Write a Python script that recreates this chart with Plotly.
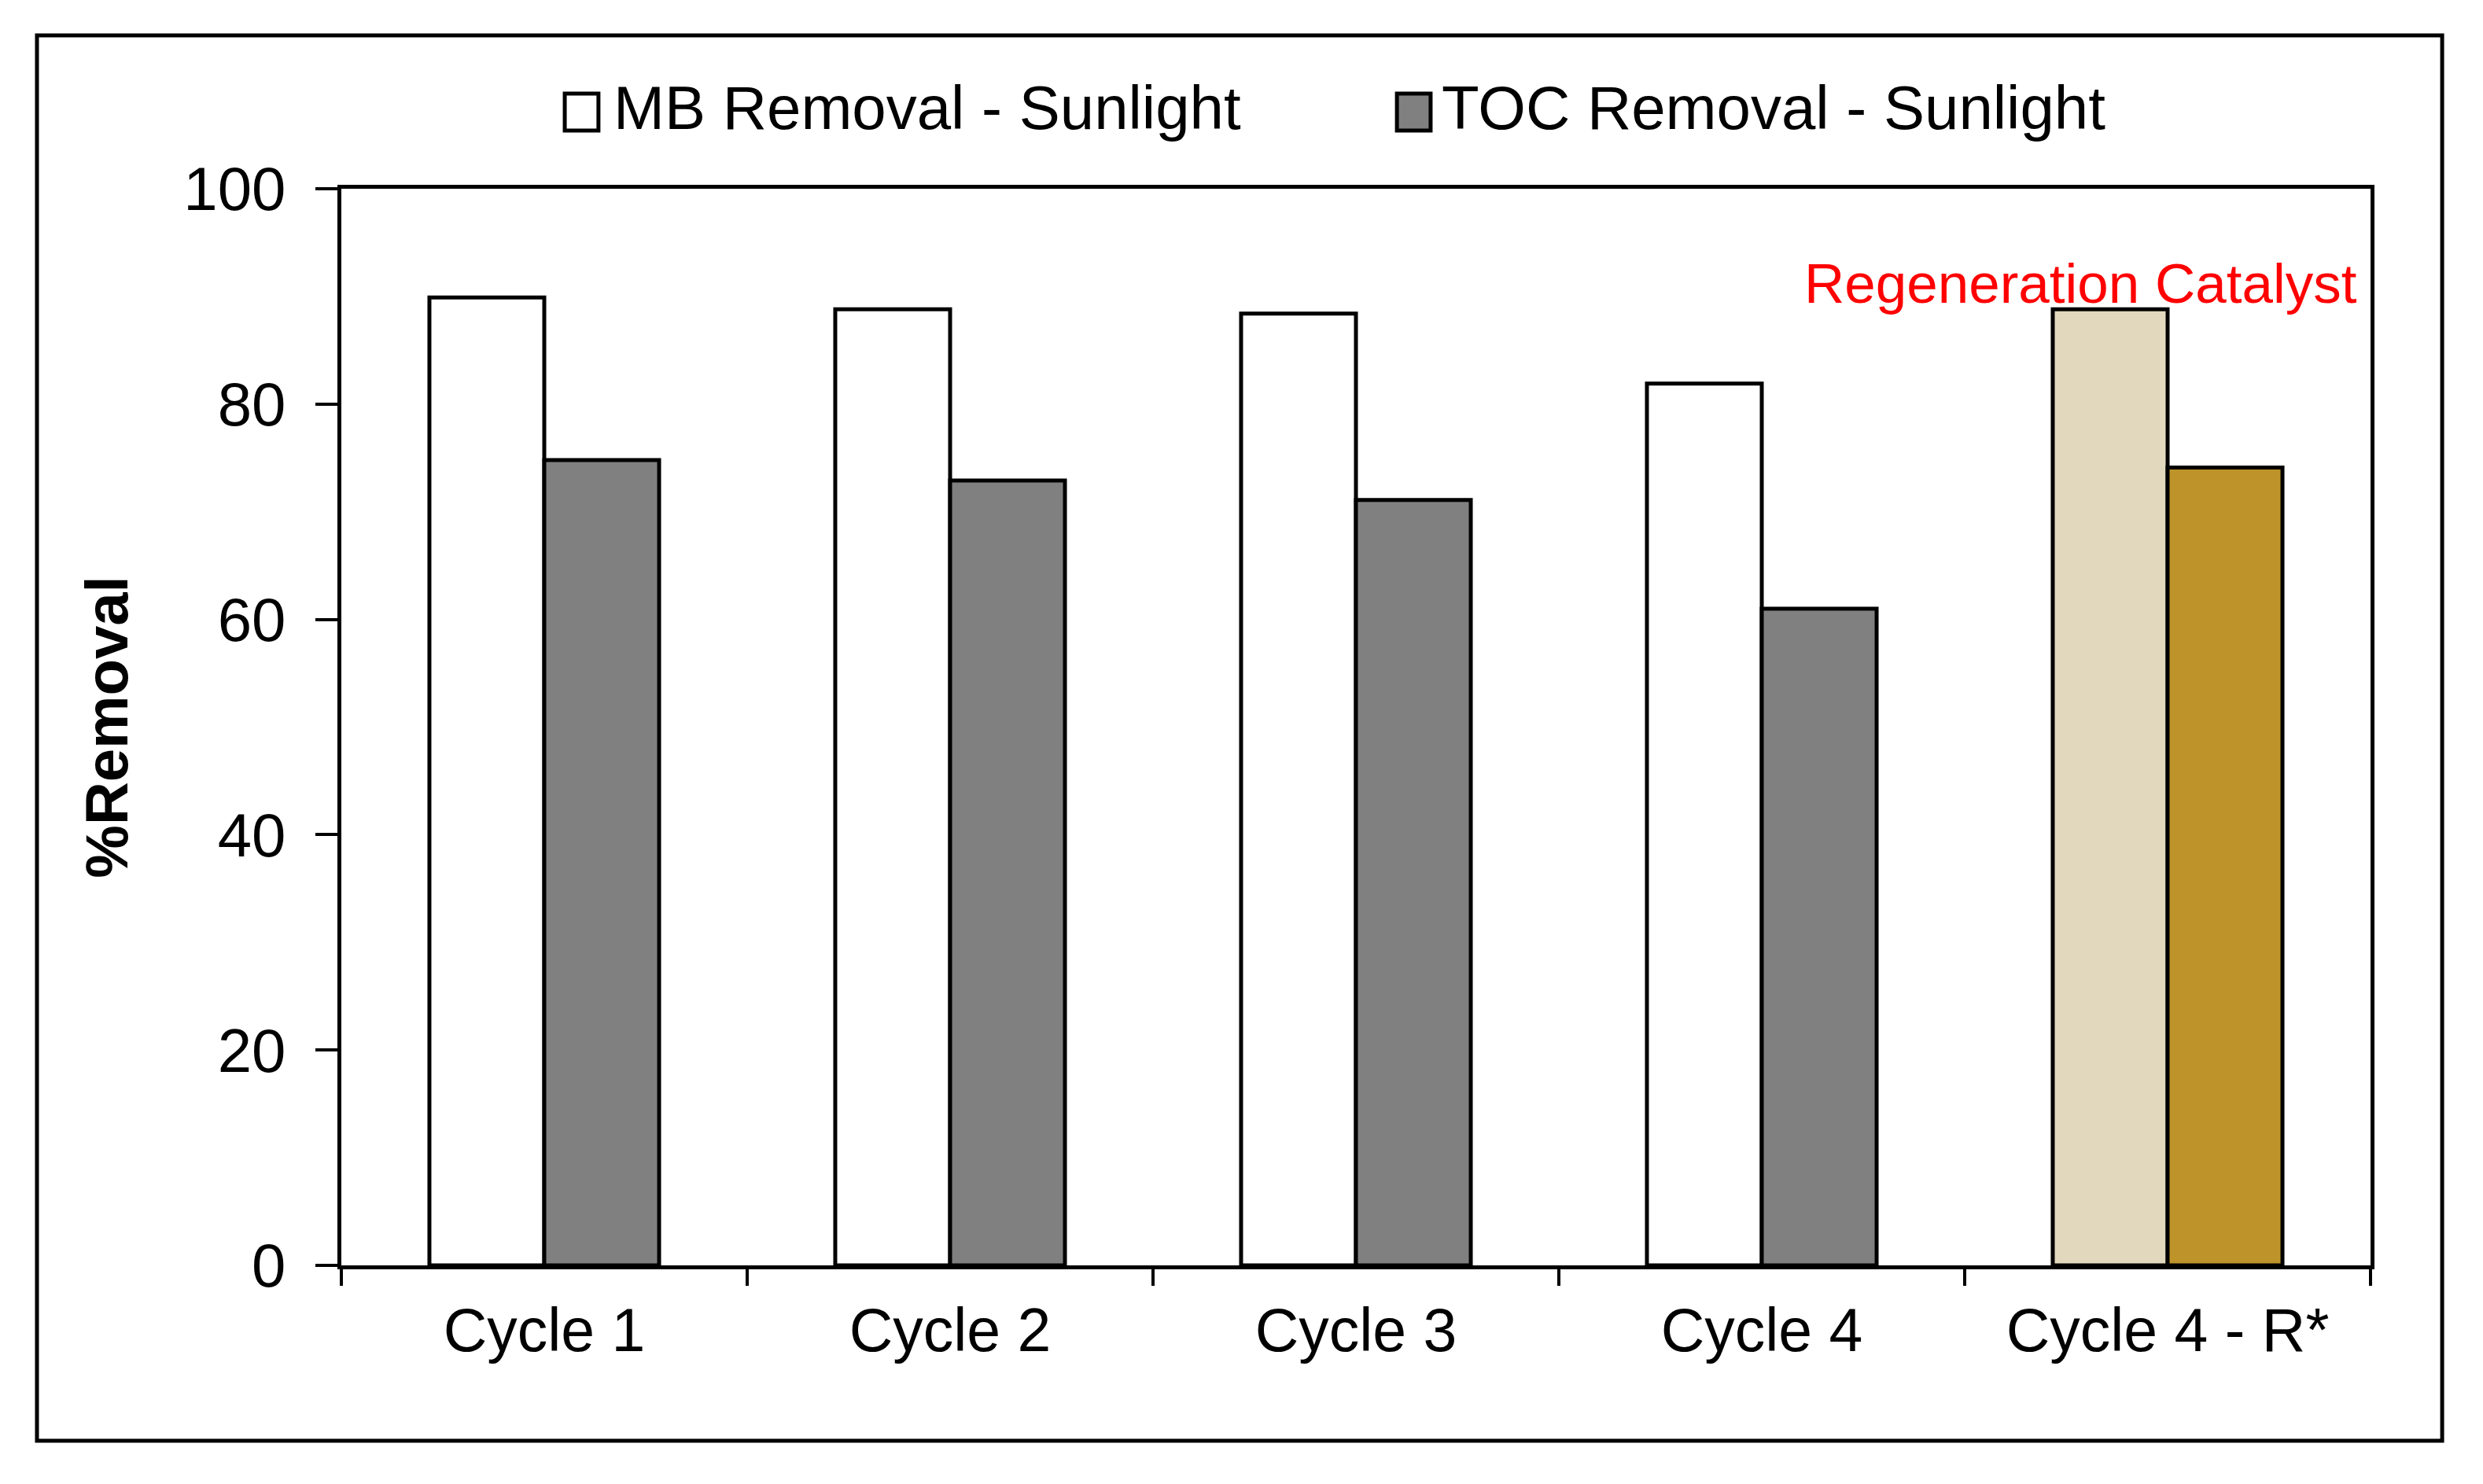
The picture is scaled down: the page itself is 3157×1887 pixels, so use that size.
import plotly.graph_objects as go

categories = ["Cycle 1", "Cycle 2", "Cycle 3", "Cycle 4", "Cycle 4 - R*"]
mb_removal = [89.9, 88.8, 88.4, 81.9, 88.8]
toc_removal = [74.8, 72.9, 71.1, 61.0, 74.1]
mb_colors = ["#FFFFFF", "#FFFFFF", "#FFFFFF", "#FFFFFF", "#E2D8BD"]
toc_colors = ["#808080", "#808080", "#808080", "#808080", "#BE932A"]
series_names = ["MB Removal - Sunlight", "TOC Removal - Sunlight"]
legend_colors = ["#FFFFFF", "#808080"]
y_ticks = [0, 20, 40, 60, 80, 100]

FONT = "Liberation Sans, Arial, sans-serif"

fig = go.Figure()
fig.add_trace(go.Bar(
    x=categories, y=mb_removal, name=series_names[0], showlegend=False,
    marker=dict(color=mb_colors, line=dict(color="black", width=5)),
))
fig.add_trace(go.Bar(
    x=categories, y=toc_removal, name=series_names[1], showlegend=False,
    marker=dict(color=toc_colors, line=dict(color="black", width=5)),
))

# page body has an 8px margin, so the figure is 8px smaller than the window
W, H = 3149, 1879
L, R, T, B = 426, 143, 232, 278

fig.update_layout(
    width=W, height=H,
    margin=dict(l=L, r=R, t=T, b=B, pad=0),
    paper_bgcolor="white", plot_bgcolor="white",
    barmode="group", bargap=0.434, bargroupgap=0,
    font=dict(family=FONT, size=78, color="black"),
    showlegend=False,
)

fig.update_xaxes(
    type="category", showline=True, linecolor="black", linewidth=5, mirror=True,
    ticks="outside", tickson="boundaries", ticklen=21, tickwidth=4, tickcolor="black",
    tickfont=dict(family=FONT, size=77, color="black"), ticklabelstandoff=12,
    showgrid=False, zeroline=False, automargin=False,
)
fig.update_yaxes(
    range=[0, 100], tickvals=y_ticks, showline=True, linecolor="black", linewidth=5,
    mirror=True, ticks="outside", ticklen=28, tickwidth=4, tickcolor="black",
    tickfont=dict(family=FONT, size=78, color="black"), ticklabelstandoff=22,
    showgrid=False, zeroline=False, automargin=False,
    title=dict(text="<b>%Removal</b>", font=dict(family=FONT, size=76, color="black"), standoff=47),
)

fig.add_annotation(
    text="Regeneration Catalyst", xref="paper", yref="y", x=0.857, y=91.2,
    xanchor="center", yanchor="middle", showarrow=False,
    font=dict(family=FONT, size=71, color="#FF0000"),
)

# legend (drawn as swatches + text so the swatches keep the reference's size)
swatch_x = [(0.1101, 0.1267), (0.5202, 0.5368)]
text_x = [0.1335, 0.5415]
for name, col, (sx0, sx1), tx in zip(series_names, legend_colors, swatch_x, text_x):
    fig.add_shape(
        type="rect", xref="paper", yref="paper", x0=sx0, x1=sx1, y0=1.0541, y1=1.0884,
        line=dict(color="black", width=5), fillcolor=col,
    )
    fig.add_annotation(
        text=name, xref="paper", yref="paper", x=tx, y=1.0749,
        xanchor="left", yanchor="middle", showarrow=False,
        font=dict(family=FONT, size=78, color="black"),
    )

# outer frame around the whole chart
fig.add_shape(
    type="rect", xref="paper", yref="paper",
    x0=-0.15, x1=1.0353, y0=-0.1629, y1=1.1425,
    line=dict(color="black", width=5), fillcolor="rgba(0,0,0,0)", layer="below",
)

fig.write_html("out.html")
